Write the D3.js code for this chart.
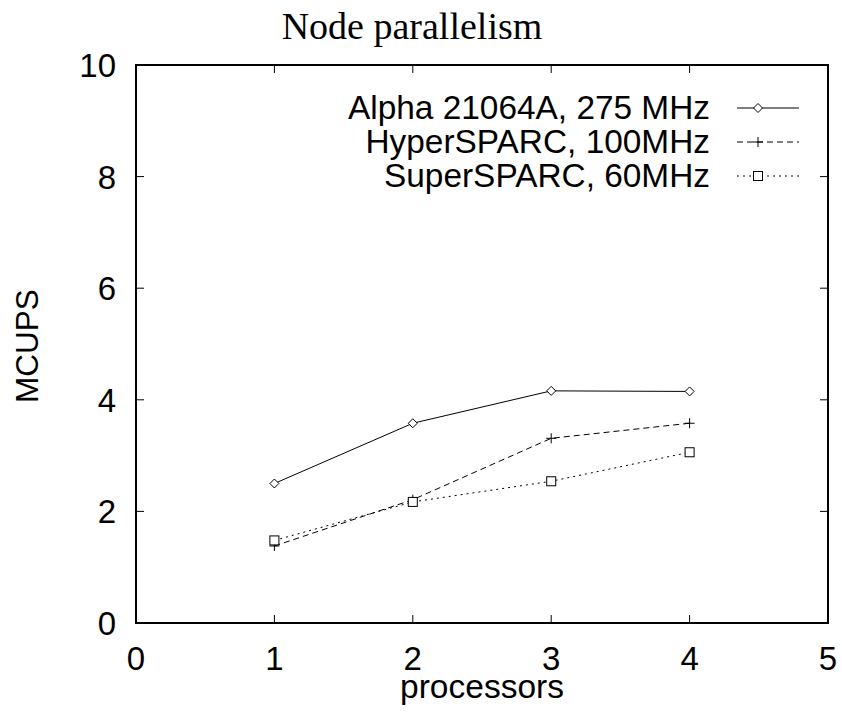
<!DOCTYPE html>
<html><head><meta charset="utf-8">
<script src="https://cdn.jsdelivr.net/npm/d3@7"></script>
<style>body{margin:0;background:#fff}svg{display:block}</style>
</head><body>
<svg id="c" width="842" height="714"></svg>
<script>
const processors = [1, 2, 3, 4];
const alphaValues = [2.50, 3.58, 4.16, 4.15];
const hyperValues = [1.38, 2.21, 3.31, 3.58];
const superValues = [1.48, 2.17, 2.54, 3.06];
const seriesNames = ["Alpha 21064A, 275 MHz", "HyperSPARC, 100MHz", "SuperSPARC, 60MHz"];
const xTicks = [0, 1, 2, 3, 4, 5];
const yTicks = [0, 2, 4, 6, 8, 10];

const svg = d3.select("#c");
const L = 136, R = 828, T = 65, B = 623;
const x = d3.scaleLinear().domain([0, 5]).range([L, R]);
const y = d3.scaleLinear().domain([0, 10]).range([B, T]);
const sans = "'Liberation Sans', Arial, sans-serif";
const fs = 33;

const series = [
  {name: seriesNames[0], vals: alphaValues, dash: null, marker: "diamond"},
  {name: seriesNames[1], vals: hyperValues, dash: "6,4", marker: "plus"},
  {name: seriesNames[2], vals: superValues, dash: "2,4", marker: "square"}
];

// ticks (inside, mirrored)
const tl = 8;
const g = svg.append("g").attr("stroke", "#000").attr("stroke-width", 1);
xTicks.forEach(t => {
  g.append("line").attr("x1", x(t)).attr("x2", x(t)).attr("y1", B).attr("y2", B - tl);
  g.append("line").attr("x1", x(t)).attr("x2", x(t)).attr("y1", T).attr("y2", T + tl);
});
yTicks.forEach(t => {
  g.append("line").attr("y1", y(t)).attr("y2", y(t)).attr("x1", L).attr("x2", L + tl);
  g.append("line").attr("y1", y(t)).attr("y2", y(t)).attr("x1", R).attr("x2", R - tl);
});
svg.append("rect").attr("x", L).attr("y", T).attr("width", R - L).attr("height", B - T)
  .attr("fill", "none").attr("stroke", "#000").attr("stroke-width", 2);

// tick labels
svg.append("g").selectAll("text").data(xTicks).join("text")
  .attr("x", d => x(d)).attr("y", 670).attr("text-anchor", "middle")
  .attr("font-family", sans).attr("font-size", fs).text(d => d);
svg.append("g").selectAll("text").data(yTicks).join("text")
  .attr("x", 116).attr("y", d => y(d) + 12).attr("text-anchor", "end")
  .attr("font-family", sans).attr("font-size", fs).text(d => d);

// axis titles
svg.append("text").attr("x", 482).attr("y", 698).attr("text-anchor", "middle")
  .attr("font-family", sans).attr("font-size", 33.5).text("processors");
svg.append("text").attr("transform", "translate(38,346) rotate(-90)").attr("text-anchor", "middle")
  .attr("font-family", sans).attr("font-size", 31.5).text("MCUPS");
svg.append("text").attr("x", 412).attr("y", 39).attr("text-anchor", "middle")
  .attr("font-family", "'Liberation Serif', 'Times New Roman', serif").attr("font-size", 38)
  .text("Node parallelism");

function drawMarker(sel, type, cx, cy) {
  if (type === "diamond") {
    sel.append("path").attr("d", `M${cx},${cy-4.5}L${cx+4.5},${cy}L${cx},${cy+4.5}L${cx-4.5},${cy}Z`)
      .attr("fill", "#fff").attr("stroke", "#000").attr("stroke-width", 1);
  } else if (type === "plus") {
    sel.append("path").attr("d", `M${cx-5},${cy}H${cx+5}M${cx},${cy-5}V${cy+5}`)
      .attr("stroke", "#000").attr("stroke-width", 1);
  } else {
    sel.append("rect").attr("x", cx - 4.5).attr("y", cy - 4.5).attr("width", 9).attr("height", 9)
      .attr("fill", "#fff").attr("stroke", "#000").attr("stroke-width", 1);
  }
}

const line = d3.line().x((d, i) => x(processors[i])).y(d => y(d));
series.forEach(s => {
  svg.append("path").attr("d", line(s.vals)).attr("fill", "none").attr("stroke", "#000")
    .attr("stroke-width", 1).attr("stroke-dasharray", s.dash);
});
series.forEach(s => {
  const mg = svg.append("g");
  s.vals.forEach((v, i) => drawMarker(mg, s.marker, x(processors[i]), y(v)));
});

// legend
const rowsY = [108, 142, 176];
series.forEach((s, i) => {
  svg.append("text").attr("x", 710).attr("y", rowsY[i] + 11).attr("text-anchor", "end")
    .attr("font-family", sans).attr("font-size", 33.4).text(s.name);
  svg.append("line").attr("x1", 737).attr("x2", 799).attr("y1", rowsY[i]).attr("y2", rowsY[i])
    .attr("stroke", "#000").attr("stroke-width", 1).attr("stroke-dasharray", s.dash);
  drawMarker(svg, s.marker, 758, rowsY[i]);
});
</script>
</body></html>
